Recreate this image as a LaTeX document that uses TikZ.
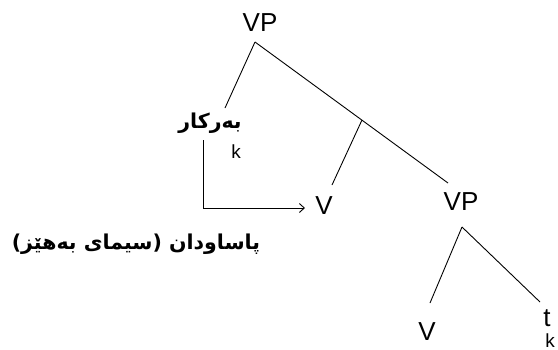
\documentclass[tikz,border=0pt]{standalone}
\usepackage{fontspec}
\setmainfont{Liberation Sans}
\newfontfamily\arabicfont[Script=Arabic]{DejaVu Sans}
\TeXXeTstate=1
\usetikzlibrary{arrows.meta}
\begin{document}
\begin{tikzpicture}[x=1pt,y=-1pt,
  lat/.style={inner sep=0pt,anchor=center,font=\fontsize{26}{26}\selectfont},
  sub/.style={inner sep=0pt,anchor=center,font=\fontsize{19}{19}\selectfont},
  kur/.style={inner sep=0pt,anchor=center,font=\arabicfont\bfseries\fontsize{20.5}{24}\selectfont},
  edge/.style={draw=black,line width=0.9pt}]
\useasboundingbox (0,0) rectangle (558,349);
\node[lat] (vp1) at (260,23) {VP};
\node[lat] (vp2) at (461,202) {VP};
\node[lat] (v1) at (324,206) {V};
\node[lat] (v2) at (427,332) {V};
\node[lat] (t) at (547,318) {t};
\node[sub] (k2) at (550,341) {k};
\node[kur] (obj) at (210,123) {\beginR بەرکار\endR};
\node[sub] (k1) at (236,152) {k};
\node[kur] (just) at (136,244) {\beginR پاساودان (سیمای بەهێز)\endR};
\coordinate (a1) at (255,42);
\coordinate (objtop) at (225,108);
\coordinate (vp2top) at (448,183);
\coordinate (br) at (362,120);
\coordinate (v1top) at (332,185);
\coordinate (a2) at (462,227);
\coordinate (v2top) at (430,303);
\coordinate (ttop) at (540,302);
\coordinate (hook) at (203,140);
\coordinate (corner) at (203,208);
\coordinate (tip) at (305,208);
\draw[edge] (a1) -- (objtop);
\draw[edge] (a1) -- (vp2top);
\draw[edge] (br) -- (v1top);
\draw[edge] (a2) -- (v2top);
\draw[edge] (a2) -- (ttop);
\draw[edge,-{Straight Barb[length=5pt,width=9pt]}] (hook) -- (corner) -- (tip);
\end{tikzpicture}
\end{document}
